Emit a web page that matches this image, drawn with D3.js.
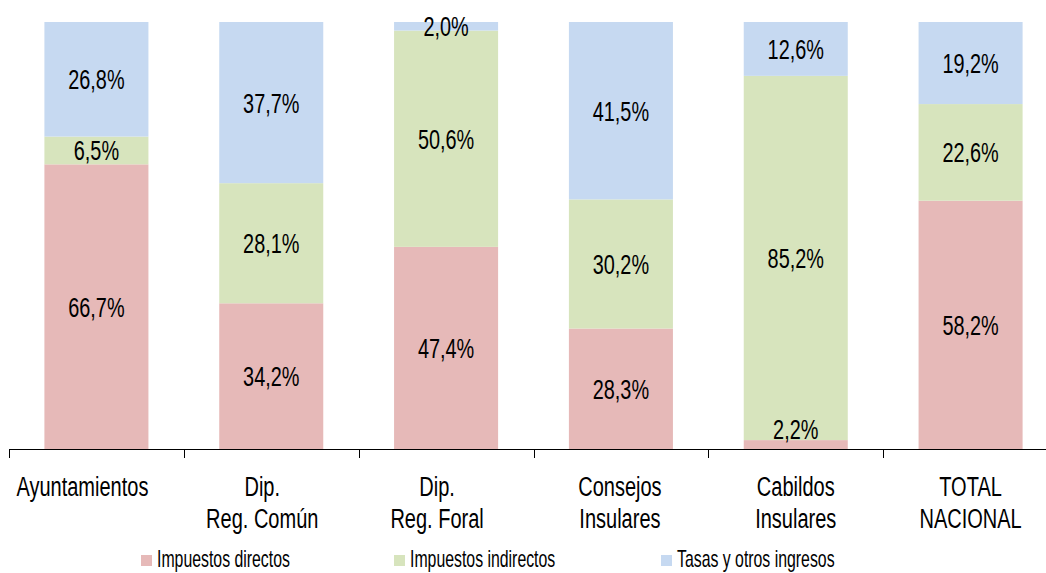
<!DOCTYPE html>
<html>
<head>
<meta charset="utf-8">
<script src="https://d3js.org/d3.v7.min.js"></script>
<style>
  body { margin: 0; background: #fff; }
  svg { display: block; }
  text { font-family: "Liberation Sans", Arial, sans-serif; fill: #000; }
</style>
</head>
<body>
<div id="chart"></div>
<script>
// data
var categories = [["Ayuntamientos"], ["Dip.", "Reg. Común"], ["Dip.", "Reg. Foral"],
                  ["Consejos", "Insulares"], ["Cabildos", "Insulares"], ["TOTAL", "NACIONAL"]];
var seriesNames = ["Impuestos directos", "Impuestos indirectos", "Tasas y otros ingresos"];
var directos   = [66.7, 34.2, 47.4, 28.3, 2.2, 58.2];
var indirectos = [6.5, 28.1, 50.6, 30.2, 85.2, 22.6];
var tasas      = [26.8, 37.7, 2.0, 41.5, 12.6, 19.2];
var colors = ["#E6B9B8", "#D7E4BD", "#C6D9F1"];

var W = 1046, H = 573;
var svg = d3.select("#chart").append("svg").attr("width", W).attr("height", H);

var keys = categories.map(function(c) { return c.join(" "); });
var rows = keys.map(function(k, i) {
  return { cat: k, s0: directos[i], s1: indirectos[i], s2: tasas[i] };
});
var stack = d3.stack().keys(["s0", "s1", "s2"])(rows);

var x = d3.scaleBand().domain(keys).range([9, 1058]).paddingInner(0.405).paddingOuter(0.2025);
var y = d3.scaleLinear().domain([0, 100]).range([449.5, 22]);

var fmt = function(v) { return d3.format(".1f")(v).replace(".", ",") + "%"; };
var narrow = 0.71; // condensed look of the original font

// bars
var layers = svg.selectAll("g.layer").data(stack).enter().append("g")
  .attr("class", "layer").attr("fill", function(d, i) { return colors[i]; });

layers.selectAll("rect").data(function(d) { return d; }).enter().append("rect")
  .attr("x", function(d) { return x(d.data.cat); })
  .attr("width", x.bandwidth())
  .attr("y", function(d) { return y(d[1]); })
  .attr("height", function(d) { return y(d[0]) - y(d[1]); });

// value labels (kept inside the plot area like excel does)
var labels = svg.append("g");
stack.forEach(function(layer) {
  labels.selectAll(null).data(layer).enter().append("text")
    .attr("transform", function(d) {
      var cx = x(d.data.cat) + x.bandwidth() / 2;
      var cy = Math.max(25.5, Math.min((y(d[0]) + y(d[1])) / 2, 429));
      return "translate(" + cx + "," + (cy + 10) + ") scale(" + narrow + ",1)";
    })
    .attr("text-anchor", "middle")
    .style("font-size", "28px")
    .text(function(d) { return fmt(d[1] - d[0]); });
});

// axis
var step = x.step();
var edges = keys.map(function(k) { return x(k) - step * x.paddingInner() / 2; });
svg.append("line").attr("x1", 9).attr("x2", W).attr("y1", 449.5).attr("y2", 449.5)
  .attr("stroke", "#000").attr("stroke-width", 1);
svg.selectAll("line.tick").data(edges).enter().append("line").attr("class", "tick")
  .attr("x1", function(d) { return Math.round(d) + 0.5; })
  .attr("x2", function(d) { return Math.round(d) + 0.5; })
  .attr("y1", 449.5).attr("y2", 458)
  .attr("stroke", "#000");

// category labels
var nudge = [-14, -9, -9, -1, 0, 0];
categories.forEach(function(lines, i) {
  lines.forEach(function(l, j) {
    svg.append("text")
      .attr("transform", "translate(" + (x(keys[i]) + x.bandwidth() / 2 + nudge[i]) + "," + (496 + j * 32) + ") scale(0.715,1)")
      .attr("text-anchor", "middle")
      .style("font-size", "28px")
      .text(l);
  });
});

// legend
var legX = [141, 394, 661];
var leg = svg.selectAll("g.leg").data(seriesNames).enter().append("g")
  .attr("transform", function(d, i) { return "translate(" + legX[i] + ",555)"; });
leg.append("rect").attr("width", 11).attr("height", 11).attr("fill", function(d, i) { return colors[i]; });
leg.append("text").attr("transform", "translate(16,12) scale(0.66,1)")
  .style("font-size", "24px").text(function(d) { return d; });
</script>
</body>
</html>
